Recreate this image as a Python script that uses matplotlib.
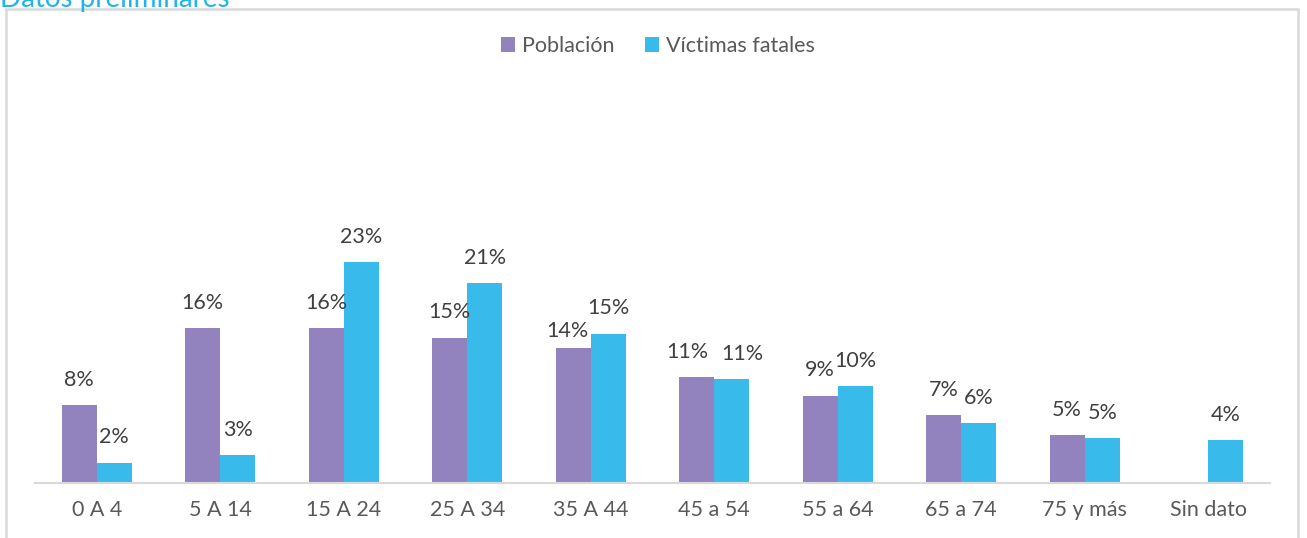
import matplotlib.pyplot as plt
import numpy as np
from matplotlib.patches import Rectangle

plt.rcParams['font.family'] = ['Lato', 'DejaVu Sans']

categories = ["0 A 4", "5 A 14", "15 A 24", "25 A 34", "35 A 44",
              "45 a 54", "55 a 64", "65 a 74", "75 y más", "Sin dato"]
poblacion = [8.0, 16.0, 16.0, 15.0, 13.9, 10.9, 9.0, 7.0, 4.9, None]
victimas = [2.1, 2.9, 22.8, 20.6, 15.4, 10.7, 10.0, 6.2, 4.6, 4.4]
series_names = ["Población", "Víctimas fatales"]

col_pob = "#9283BE"
col_vic = "#38BBEB"
txt_lab = "#404040"
txt_tick = "#595959"
fs = 15.5

# pixel nudges for labels that would otherwise collide: (series, index) -> (dx, dy)
label_nudge = {(0, 4): (-6, -8), (0, 5): (-9, 0), (1, 5): (11, 0)}

W, H = 1307, 538
fig = plt.figure(figsize=(W / 100, H / 100), dpi=100)

# outer chart frame (bottom edge falls outside the canvas)
fig.patches.append(Rectangle((6 / W, -0.05), (1298 - 6) / W, 1.05 - 9 / H,
                             transform=fig.transFigure, fill=False,
                             edgecolor="#D9D9D9", linewidth=1.8))

# heading, partially cut by the top edge
fig.text(0 / W, 1 + 14 / H, "Datos preliminares", color="#1FB5E8",
         fontsize=20, ha="left", va="top")

ax_left, ax_right = 35 / W, 1270 / W
ax_bottom = (H - 483) / H
ax_top = (H - 95) / H
ax = fig.add_axes([ax_left, ax_bottom, ax_right - ax_left, ax_top - ax_bottom])

x = np.arange(len(categories))
bw = 0.285
pob_vals = [np.nan if v is None else v for v in poblacion]
b1 = ax.bar(x - bw / 2, pob_vals, bw, color=col_pob, label=series_names[0])
b2 = ax.bar(x + bw / 2, victimas, bw, color=col_vic, label=series_names[1])

px = 72 / 100  # points per pixel at 100 dpi
for si, (bars, vals) in enumerate(((b1, poblacion), (b2, victimas))):
    for i, (rect, v) in enumerate(zip(bars, vals)):
        if v is None:
            continue
        dx, dy = label_nudge.get((si, i), (0, 0))
        ax.annotate(f"{v:.0f}%", (rect.get_x() + rect.get_width() / 2, v),
                    xytext=(dx * px, 11 + dy * px), textcoords="offset points",
                    ha="center", va="bottom", fontsize=fs, color=txt_lab,
                    annotation_clip=False)

ax.set_xlim(-0.5, len(categories) - 0.5)
ax.set_ylim(0, 40)
ax.set_xticks(x)
ax.set_xticklabels(categories, fontsize=fs, color=txt_tick)
ax.tick_params(axis="x", length=0, pad=12)
ax.set_yticks([])
for s in ("top", "left", "right"):
    ax.spines[s].set_visible(False)
ax.spines["bottom"].set_color("#D9D9D9")
ax.spines["bottom"].set_linewidth(1.5)

fig.legend(handles=[b1, b2], labels=series_names, loc="center",
           bbox_to_anchor=(658 / W, 1 - 46 / H), ncol=2, frameon=False,
           fontsize=fs, handlelength=0.65, handleheight=0.65,
           handletextpad=0.35, columnspacing=1.4, labelcolor=txt_tick)

fig.savefig("out.png", dpi=100)
